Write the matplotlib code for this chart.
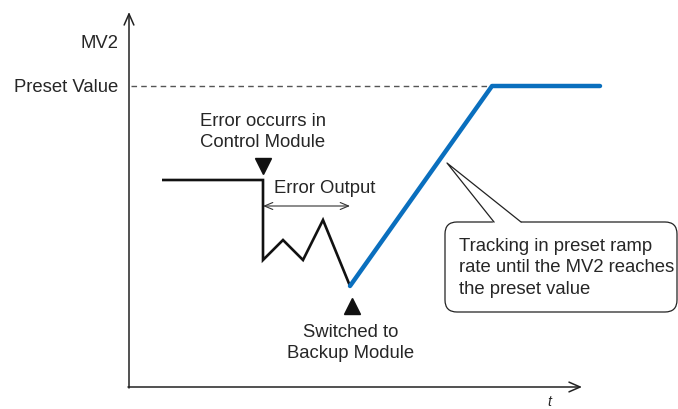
import matplotlib
matplotlib.use("Agg")
import matplotlib.pyplot as plt
from matplotlib.patches import FancyBboxPatch

plt.rcParams['font.family'] = ['Liberation Sans', 'DejaVu Sans']

# Data (in canvas units: x = time, y = MV2 drawn downward-positive)
err_t = [162, 263, 263, 283, 303, 323, 350]
err_mv = [181, 181, 261, 241, 261, 221, 287]
ramp_t = [350, 492, 600]
ramp_mv = [287, 87, 87]
preset_mv = 87
preset_label = "Preset Value"
y_label = "MV2"
x_label = "t"

fig = plt.figure(figsize=(6.78, 4.10), dpi=100)
ax = fig.add_axes([0, 0, 1, 1])
ax.set_xlim(0, 678)
ax.set_ylim(410, 0)
ax.axis('off')

FS = 13.3
tc = '#262626'
axc = '#222222'
# axes with arrows
ax.annotate('', xy=(129, 13), xytext=(129, 389),
            arrowprops=dict(arrowstyle='->,head_length=0.8,head_width=0.35', lw=1.1, color=axc, shrinkA=0, shrinkB=0))
ax.annotate('', xy=(582, 388), xytext=(128, 388),
            arrowprops=dict(arrowstyle='->,head_length=0.8,head_width=0.35', lw=1.1, color=axc, shrinkA=0, shrinkB=0))

ax.text(118, 43, y_label, ha='right', va='center', fontsize=FS, color=tc)
ax.text(118, 87, preset_label, ha='right', va='center', fontsize=FS, color=tc)
ax.text(549, 402, x_label, ha='center', va='center', fontsize=FS - 3, style='italic', color=tc)

# preset dashed line
ax.plot([131, ramp_t[1]], [preset_mv, preset_mv], ls=(0, (4, 3)), lw=1.0, color='#555555')

# error output line
ax.plot(err_t, err_mv, color='#111111', lw=1.9, solid_joinstyle='miter', solid_capstyle='butt')
# ramp line
ax.plot(ramp_t, ramp_mv, color='#0A6FBE', lw=3.2, solid_capstyle='round', solid_joinstyle='round')

# triangles
ax.plot([263], [167], marker='v', markersize=11, color='#111111', ls='none')
ax.plot([352], [307], marker='^', markersize=11, color='#111111', ls='none')

ax.text(263, 122, "Error occurrs in", ha='center', va='center', fontsize=FS, color=tc)
ax.text(263, 143, "Control Module", ha='center', va='center', fontsize=FS, color=tc)
ax.text(274, 189, "Error Output", ha='left', va='center', fontsize=FS, color=tc)
ax.annotate('', xy=(350, 207), xytext=(263, 207),
            arrowprops=dict(arrowstyle='<->,head_length=0.6,head_width=0.25', lw=0.8, color='#333333', shrinkA=0, shrinkB=0))
ax.text(351, 333, "Switched to", ha='center', va='center', fontsize=FS, color=tc)
ax.text(351, 354, "Backup Module", ha='center', va='center', fontsize=FS, color=tc)

# callout box
box = FancyBboxPatch((445, 223), 232, 90, boxstyle='round,pad=0,rounding_size=12',
                     fc='white', ec='#222222', lw=0.9)
ax.add_patch(box)
ax.plot([494, 520], [223, 223], color='white', lw=1.6)
ax.plot([494, 447, 521], [223, 164, 223], color='#222222', lw=0.9)
ax.text(459, 247, "Tracking in preset ramp", ha='left', va='center', fontsize=FS, color=tc)
ax.text(459, 268, "rate until the MV2 reaches", ha='left', va='center', fontsize=FS, color=tc)
ax.text(459, 290, "the preset value", ha='left', va='center', fontsize=FS, color=tc)

fig.savefig('out.png', dpi=100)
